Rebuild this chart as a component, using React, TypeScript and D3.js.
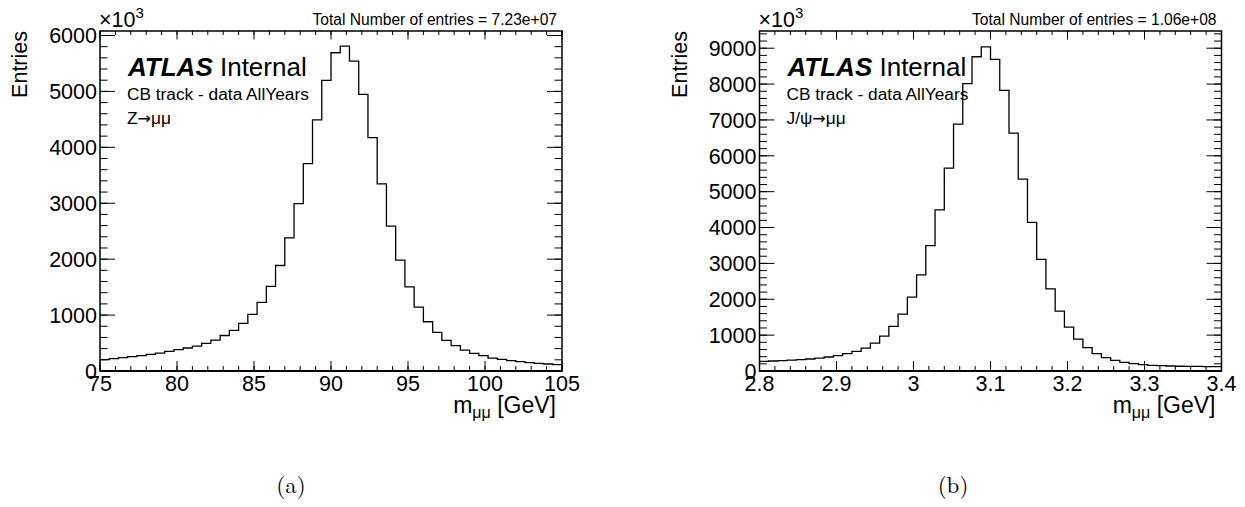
import React from "react";
import * as d3 from "d3";

// ---------- data ----------
const zBinsMin = 75;
const zBinsMax = 105;
const zValues = [
  202, 220, 238, 256, 274, 298, 321, 351, 381, 411,
  446, 494, 553, 635, 726, 851, 1012, 1226, 1512, 1887,
  2381, 2994, 3710, 4490, 5196, 5691, 5809, 5541, 4946, 4173,
  3345, 2590, 1982, 1506, 1143, 881, 691, 548, 452, 375,
  315, 274, 232, 208, 185, 167, 149, 137, 125, 113,
];
const zXTicks = [75, 80, 85, 90, 95, 100, 105];
const zYTicks = [0, 1000, 2000, 3000, 4000, 5000, 6000];

const jBinsMin = 2.8;
const jBinsMax = 3.4;
const jValues = [
  271, 279, 289, 301, 316, 335, 360, 390, 430, 484,
  548, 640, 779, 974, 1243, 1586, 2059, 2681, 3497, 4490,
  5658, 6882, 8011, 8762, 9040, 8690, 7827, 6631, 5352, 4145,
  3115, 2291, 1669, 1224, 890, 651, 484, 373, 298, 242,
  206, 178, 159, 150, 139, 133, 130, 128, 124, 122,
];
const jXTicks = [2.8, 2.9, 3.0, 3.1, 3.2, 3.3, 3.4];
const jYTicks = [0, 1000, 2000, 3000, 4000, 5000, 6000, 7000, 8000, 9000];

const panels = [
  {
    key: "a",
    values: zValues,
    xMin: zBinsMin,
    xMax: zBinsMax,
    xTicks: zXTicks,
    xMinorStep: 1,
    yTicks: zYTicks,
    yMax: 6080,
    yMinorStep: 200,
    processPre: "Z",
    total: "Total Number of entries = 7.23e+07",
    caption: "(a)",
  },
  {
    key: "b",
    values: jValues,
    xMin: jBinsMin,
    xMax: jBinsMax,
    xTicks: jXTicks,
    xMinorStep: 0.02,
    yTicks: jYTicks,
    yMax: 9480,
    yMinorStep: 200,
    processPre: "J/\u03c8",
    total: "Total Number of entries = 1.06e+08",
    caption: "(b)",
  },
];

// ---------- layout ----------
const W = 1245;
const H = 507;
const frameW = 462;
const frameTop = 31;
const frameBottom = 371;
const panelLefts = [100, 759.5];
const captionX = [291, 953];
const FONT = "'Liberation Sans', Arial, Helvetica, sans-serif";

function fmtTick(v: number, isJ: boolean) {
  if (!isJ) return String(v);
  const s = v.toFixed(1);
  return s === "3.0" ? "3" : s;
}

function Panel({ p, left, capX }: { p: any; left: number; capX: number }) {
  const right = left + frameW;
  const x = d3.scaleLinear().domain([p.xMin, p.xMax]).range([left, right]);
  const y = d3.scaleLinear().domain([0, p.yMax]).range([frameBottom, frameTop]);
  const n = p.values.length;
  const bw = (p.xMax - p.xMin) / n;
  const pts: [number, number][] = p.values.map((v: number, i: number) => [p.xMin + i * bw, v]);
  pts.push([p.xMax, p.values[n - 1]]);
  const line = d3
    .line<[number, number]>()
    .x((d) => x(d[0]))
    .y((d) => y(d[1]))
    .curve(d3.curveStepAfter);

  const isJ = p.key === "b";
  const xMinor: number[] = [];
  const nx = Math.round((p.xMax - p.xMin) / p.xMinorStep);
  for (let i = 0; i <= nx; i++) xMinor.push(p.xMin + i * p.xMinorStep);
  const yMinor: number[] = [];
  for (let v = 0; v <= p.yMax; v += p.yMinorStep) yMinor.push(v);

  const xMajLen = 10;
  const xMinLen = 5;
  const yMajLen = 15;
  const yMinLen = 7.5;

  return (
    <g>
      {/* histogram */}
      <path d={line(pts) || ""} fill="none" stroke="#000" strokeWidth={1.3} />
      {/* ticks */}
      <g stroke="#000" strokeWidth={1}>
        {xMinor.map((v, i) => (
          <g key={"xm" + i}>
            <line x1={x(v)} x2={x(v)} y1={frameBottom} y2={frameBottom - xMinLen} />
            <line x1={x(v)} x2={x(v)} y1={frameTop} y2={frameTop + xMinLen * 0.8} />
          </g>
        ))}
        {p.xTicks.map((v: number, i: number) => (
          <g key={"xM" + i}>
            <line x1={x(v)} x2={x(v)} y1={frameBottom} y2={frameBottom - xMajLen} />
            <line x1={x(v)} x2={x(v)} y1={frameTop} y2={frameTop + xMajLen * 0.85} />
          </g>
        ))}
        {yMinor.map((v, i) => (
          <g key={"ym" + i}>
            <line x1={left} x2={left + yMinLen} y1={y(v)} y2={y(v)} />
            <line x1={right} x2={right - yMinLen} y1={y(v)} y2={y(v)} />
          </g>
        ))}
        {p.yTicks.map((v: number, i: number) => (
          <g key={"yM" + i}>
            <line x1={left} x2={left + yMajLen} y1={y(v)} y2={y(v)} />
            <line x1={right} x2={right - yMajLen} y1={y(v)} y2={y(v)} />
          </g>
        ))}
      </g>
      {/* frame */}
      <rect
        x={left}
        y={frameTop}
        width={frameW}
        height={frameBottom - frameTop}
        fill="none"
        stroke="#000"
        strokeWidth={1.5}
      />
      <line x1={left} x2={right} y1={frameBottom} y2={frameBottom} stroke="#000" strokeWidth={2} />
      {/* tick labels */}
      <g fontFamily={FONT} fontSize={21.5} fill="#000">
        {p.yTicks.map((v: number, i: number) => (
          <text key={"yl" + i} x={left - 3} y={y(v)} dy="0.36em" textAnchor="end">
            {v}
          </text>
        ))}
        {p.xTicks.map((v: number, i: number) => (
          <text key={"xl" + i} x={x(v)} y={frameBottom + 20} textAnchor="middle">
            {fmtTick(v, isJ)}
          </text>
        ))}
        {/* y title */}
        <text
          transform={`translate(${left - 73},${frameTop}) rotate(-90)`}
          textAnchor="end"
        >
          Entries
        </text>
        {/* x10^3 */}
        <text x={left - 1} y={frameTop - 4}>
          {"\u00d710"}
          <tspan fontSize={15} dy={-9}>
            3
          </tspan>
        </text>
      </g>
      {/* x title */}
      <text x={right - 6} y={frameBottom + 42} textAnchor="end" fontFamily={FONT} fontSize={23}>
        m
        <tspan fontSize={16} dy={5}>
          {"\u03bc\u03bc"}
        </tspan>
        <tspan dy={-5}>{" [GeV]"}</tspan>
      </text>
      <text
        x={right - 5}
        y={frameTop - 6}
        fontFamily={FONT}
        fontSize={15.6}
        textAnchor="end"
      >
        {p.total}
      </text>
      {/* ATLAS label */}
      <text x={left + 28} y={76} fontFamily={FONT} fontSize={26}>
        <tspan fontWeight="bold" fontStyle="italic">
          ATLAS
        </tspan>
        <tspan>{" Internal"}</tspan>
      </text>
      <text x={left + 27} y={100} fontFamily={FONT} fontSize={17.3}>
        CB track - data AllYears
      </text>
      <text x={left + 27} y={124} fontFamily={FONT} fontSize={17.3}>
        {p.processPre}
        <tspan fontFamily="'DejaVu Sans', sans-serif" fontSize={16}>
          {"\u2192"}
        </tspan>
        {"\u03bc\u03bc"}
      </text>
      {/* caption */}
      <text
        x={capX}
        y={493}
        fontFamily="'Latin Modern Roman', 'DejaVu Serif', 'Liberation Serif', serif"
        fontSize={23}
        textAnchor="middle"
      >
        {p.caption}
      </text>
    </g>
  );
}

export default function App() {
  return (
    <svg
      width={W}
      height={H}
      viewBox={`0 0 ${W} ${H}`}
      style={{ position: "absolute", left: 0, top: 0, background: "#fff" }}
    >
      <rect x={0} y={0} width={W} height={H} fill="#fff" />
      {panels.map((p, i) => (
        <Panel key={p.key} p={p} left={panelLefts[i]} capX={captionX[i]} />
      ))}
    </svg>
  );
}
